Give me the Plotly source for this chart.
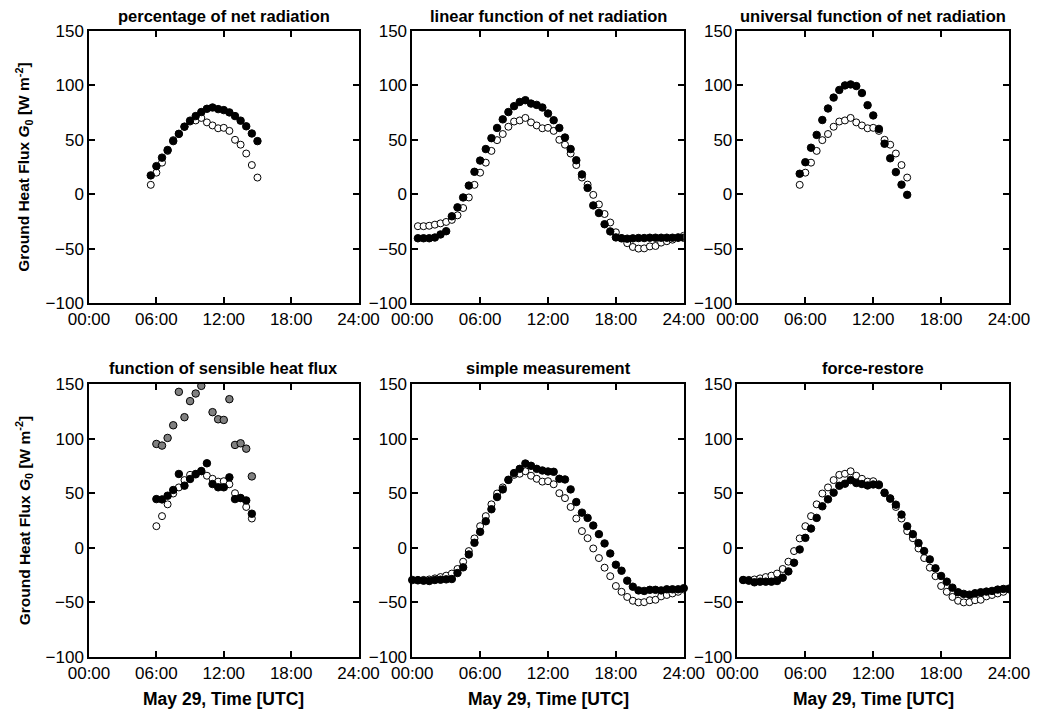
import plotly.graph_objects as go

# ---------------- data ----------------
TIME_LABELS = [
    "00:00", "00:30", "01:00", "01:30", "02:00", "02:30", "03:00", "03:30",
    "04:00", "04:30", "05:00", "05:30", "06:00", "06:30", "07:00", "07:30",
    "08:00", "08:30", "09:00", "09:30", "10:00", "10:30", "11:00", "11:30",
    "12:00", "12:30", "13:00", "13:30", "14:00", "14:30", "15:00", "15:30",
    "16:00", "16:30", "17:00", "17:30", "18:00", "18:30", "19:00", "19:30",
    "20:00", "20:30", "21:00", "21:30", "22:00", "22:30", "23:00", "23:30",
    "24:00",
]
TICK_VALS = [0, 6, 12, 18, 24]
TICK_TEXT = ["00:00", "06:00", "12:00", "18:00", "24:00"]
Y_TICKS = [-100, -50, 0, 50, 100, 150]

PANEL_TITLES = [
    "percentage of net radiation",
    "linear function of net radiation",
    "universal function of net radiation",
    "function of sensible heat flux",
    "simple measurement",
    "force-restore",
]

# measured ground heat flux (open circles), starting 00:30
MEASURED_START = "00:30"
MEASURED = [
    -29.4, -29.4, -29.0, -28.0, -26.8, -25.5, -23.6, -19.4, -12.7, -3.0,
    8.6, 19.8, 29.0, 39.8, 49.7, 55.3, 62.0, 66.8, 67.8, 70.1,
    66.0, 63.2, 60.6, 61.0, 58.2, 50.0, 45.5, 37.4, 26.8, 15.3,
    8.8, -0.6, -9.4, -18.2, -26.0, -35.0, -40.3, -45.0, -48.5, -50.0,
    -49.8, -48.0, -47.6, -44.5, -43.2, -41.8, -40.3, -38.2,
]

# modelled series (filled circles)
P1_START = "05:30"
P1_MODEL = [17.3, 25.8, 33.6, 40.6, 48.8, 55.5, 62.1, 67.6, 71.8, 75.5,
            78.5, 79.7, 78.2, 77.3, 75.2, 71.8, 67.6, 62.4, 55.8, 48.8]

P2_START = "00:30"
P2_MODEL = [
    -40.5, -40.5, -40.5, -39.8, -37.0, -34.0, -20.3, -12.1, -3.0, 7.9,
    20.6, 30.9, 41.5, 51.5, 60.9, 68.8, 75.5, 80.9, 84.8, 86.4,
    83.3, 82.1, 79.7, 74.2, 68.0, 60.9, 52.1, 41.5, 31.2, 18.2,
    5.8, -10.3, -17.3, -27.6, -34.2, -39.7, -40.6, -40.9, -40.6, -40.3,
    -40.3, -40.0, -40.0, -40.0, -40.0, -40.0, -39.7, -40.0,
]

P3_START = "05:30"
P3_MODEL = [18.8, 29.4, 42.7, 54.5, 68.2, 78.8, 88.8, 95.8, 100.0, 100.9,
            99.4, 93.0, 81.8, 72.4, 60.0, 46.4, 33.0, 20.3, 8.8, -0.6]

P4_START = "06:00"
P4_MODEL = [44.6, 44.3, 47.7, 52.9, 67.6, 56.9, 63.0, 67.3, 70.3, 77.4,
            58.4, 55.4, 55.4, 64.5, 44.6, 45.6, 43.4, 31.2]
P4_GRAY = [95.1, 93.6, 100.6, 112.2, 142.8, 119.6, 134.3, 141.3, 148.3, 165.0,
           124.2, 117.7, 117.1, 136.1, 94.2, 95.7, 90.8, 65.4]

P5_START = "00:00"
P5_MODEL = [
    -29.5, -29.8, -30.1, -30.4, -29.5, -29.2, -28.9, -28.6, -23.1,
    -17.9, -6.1, 4.6, 14.6, 24.3, 35.3, 46.5, 53.5, 62.3, 68.4,
    72.3, 77.2, 75.1, 72.3, 70.8, 69.9, 69.6, 63.2, 62.6, 53.5,
    41.9, 32.2, 27.4, 20.4, 12.5, 4.0, -5.2, -15.5, -21.0, -30.1,
    -35.6, -39.0, -39.5, -38.5, -38.5, -39.0, -38.0, -38.0, -38.0, -37.0,
]

P6_START = "00:30"
P6_MODEL = [
    -29.5, -30.1, -31.6, -31.0, -31.0, -31.0, -30.4, -27.4, -21.6, -13.7,
    -1.5, 9.1, 17.6, 27.4, 38.0, 44.4, 50.5, 56.8, 58.7, 62.0,
    59.3, 58.4, 57.1, 58.0, 57.4, 50.5, 45.0, 39.5, 30.4, 19.8,
    12.5, 4.3, -3.0, -10.6, -18.8, -25.8, -31.0, -36.5, -40.7, -42.2,
    -42.9, -41.6, -40.7, -40.1, -39.5, -38.3, -37.7, -37.4,
]

# panel -> (start, end) window of the measured series shown
MEAS_WINDOWS = [("05:30", "15:00"), ("00:30", "24:00"), ("05:30", "15:00"),
                ("06:00", "14:30"), ("00:30", "24:00"), ("00:30", "24:00")]

# ---------------- helpers ----------------
def hours(lbl):
    h, m = lbl.split(":")
    return int(h) + int(m) / 60.0


def times_from(start, n):
    i = TIME_LABELS.index(start)
    return [hours(t) for t in TIME_LABELS[i:i + n]]


def measured_window(start, end):
    m0 = TIME_LABELS.index(MEASURED_START)
    i0 = TIME_LABELS.index(start) - m0
    i1 = TIME_LABELS.index(end) - m0 + 1
    return times_from(start, i1 - i0), MEASURED[i0:i1]


FONT = "Liberation Sans, Arial, Helvetica, sans-serif"

fig = go.Figure()

models = [(P1_START, P1_MODEL), (P2_START, P2_MODEL), (P3_START, P3_MODEL),
          (P4_START, P4_MODEL), (P5_START, P5_MODEL), (P6_START, P6_MODEL)]

for k in range(6):
    ax = "" if k == 0 else str(k + 1)
    xr, yr = "x" + ax, "y" + ax
    mx, my = measured_window(*MEAS_WINDOWS[k])
    fig.add_trace(go.Scatter(
        x=mx, y=my, mode="markers", xaxis=xr, yaxis=yr, showlegend=False,
        marker=dict(size=7, color="white", line=dict(color="black", width=1))))
    if k == 3:
        fig.add_trace(go.Scatter(
            x=times_from(P4_START, len(P4_GRAY)), y=P4_GRAY, mode="markers",
            xaxis=xr, yaxis=yr, showlegend=False,
            marker=dict(size=7.5, color="#808080", line=dict(color="black", width=1))))
    st, vals = models[k]
    fig.add_trace(go.Scatter(
        x=times_from(st, len(vals)), y=vals, mode="markers",
        xaxis=xr, yaxis=yr, showlegend=False, cliponaxis=(k != 4),
        marker=dict(size=7.5, color="black", line=dict(color="black", width=1))))

# ---------------- layout ----------------
W, H = 1042, 717
ML, MR, MT, MB = 89, 28, 31, 60
PW, PH = W - ML - MR, H - MT - MB

xdom_px = [(89, 360), (414, 687), (741, 1014)]
ydom_px = [(31, 303), (384, 657)]


def xd(a, b):
    return [(a - ML) / PW, (b - ML) / PW]


def yd(top, bot):
    return [(H - MB - bot) / PH, (H - MB - top) / PH]


layout = dict(
    width=W, height=H,
    margin=dict(l=ML, r=MR, t=MT, b=MB),
    paper_bgcolor="white", plot_bgcolor="white",
    font=dict(family=FONT, size=17, color="black"),
    showlegend=False,
)

axis_common = dict(
    showgrid=False, zeroline=False, showline=True, linecolor="black",
    linewidth=1.5, mirror="ticks", ticks="inside", ticklen=6, tickwidth=1.5,
    tickcolor="black", tickfont=dict(family=FONT, size=17, color="black"),
)

annotations = []
for k in range(6):
    r, c = divmod(k, 3)
    ax = "" if k == 0 else str(k + 1)
    layout["xaxis" + ax] = dict(
        axis_common, domain=xd(*xdom_px[c]), range=[0, 24],
        tickmode="array", tickvals=TICK_VALS, ticktext=TICK_TEXT,
        anchor="y" + ax)
    layout["yaxis" + ax] = dict(
        axis_common, domain=yd(*ydom_px[r]), range=[-100, 150],
        tickmode="array", tickvals=Y_TICKS, anchor="x" + ax)
    cx = (xdom_px[c][0] + xdom_px[c][1]) / 2
    ty = 16.5 if r == 0 else 368
    annotations.append(dict(
        text="<b>%s</b>" % PANEL_TITLES[k], xref="paper", yref="paper",
        x=(cx - ML) / PW, y=(H - MB - ty) / PH, xanchor="center",
        yanchor="middle", showarrow=False,
        font=dict(family=FONT, size=16.5, color="black")))
    if r == 1:
        annotations.append(dict(
            text="<b>May 29, Time [UTC]</b>", xref="paper", yref="paper",
            x=(cx - ML) / PW, y=(H - MB - 699) / PH, xanchor="center",
            yanchor="middle", showarrow=False,
            font=dict(family=FONT, size=17.5, color="black")))

for r in range(2):
    cy = (ydom_px[r][0] + ydom_px[r][1]) / 2
    annotations.append(dict(
        text="<b>Ground Heat Flux <i>G</i><sub>0</sub> [W m<sup>-2</sup>]</b>",
        xref="paper", yref="paper", x=(23.5 - ML) / PW, y=(H - MB - cy) / PH,
        xanchor="center", yanchor="middle", textangle=-90, showarrow=False,
        font=dict(family=FONT, size=15.5, color="black")))

layout["annotations"] = annotations
fig.update_layout(**layout)
fig.write_html("out.html")
